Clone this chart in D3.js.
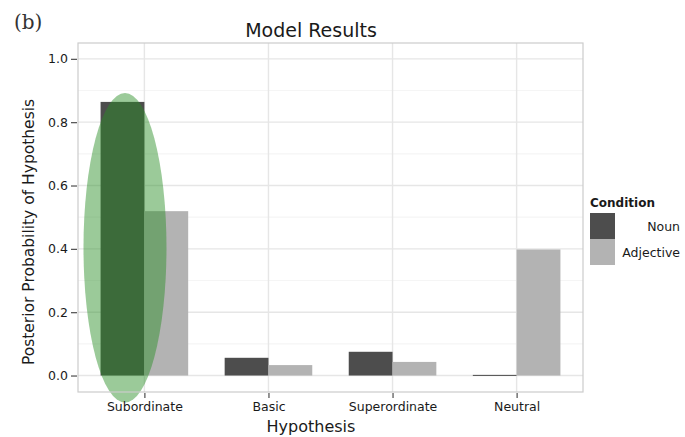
<!DOCTYPE html>
<html>
<head>
<meta charset="utf-8">
<script src="https://cdn.jsdelivr.net/npm/d3@7"></script>
<style>
  html, body { margin: 0; padding: 0; background: #fff; }
  svg { display: block; }
  text { font-family: "DejaVu Sans", sans-serif; fill: #1a1a1a; }
  text.panel-tag { font-family: "DejaVu Serif", "Liberation Serif", serif; fill: #333; }
</style>
</head>
<body>
<svg id="chart" width="685" height="437"></svg>
<script>
// Posterior probability of each hypothesis, by condition
const hypotheses = ["Subordinate", "Basic", "Superordinate", "Neutral"];
const conditions = ["Noun", "Adjective"];
const nounValues = [0.864, 0.056, 0.075, 0.002];
const adjectiveValues = [0.519, 0.033, 0.043, 0.398];
const yTicks = [0.0, 0.2, 0.4, 0.6, 0.8, 1.0];
const yMinor = [0.1, 0.3, 0.5, 0.7, 0.9];
const highlighted = "Subordinate";

const conditionColors = { Noun: "#4d4d4d", Adjective: "#b3b3b3" };

const svg = d3.select("#chart");
const panel = { left: 78, right: 583, top: 43, bottom: 392 };

const x = d3.scalePoint().domain(hypotheses)
  .range([panel.left, panel.right]).padding(0.535);
const step = x.step();
const xInner = d3.scaleBand().domain(conditions)
  .range([-step * 0.353, step * 0.353]);
const y = d3.scaleLinear().domain([-0.052, 1.05]).range([panel.bottom, panel.top]);

const rows = hypotheses.map((h, i) => ({
  hypothesis: h,
  values: [
    { condition: "Noun", value: nounValues[i] },
    { condition: "Adjective", value: adjectiveValues[i] }
  ]
}));

// panel background + grid
svg.append("rect")
  .attr("x", panel.left).attr("y", panel.top)
  .attr("width", panel.right - panel.left).attr("height", panel.bottom - panel.top)
  .attr("fill", "#fff");

const grid = svg.append("g");
grid.selectAll("line.minor").data(yMinor).join("line")
  .attr("x1", panel.left).attr("x2", panel.right)
  .attr("y1", d => y(d)).attr("y2", d => y(d))
  .attr("stroke", "#f5f5f5").attr("stroke-width", 1.2);
grid.selectAll("line.majorY").data(yTicks).join("line")
  .attr("x1", panel.left).attr("x2", panel.right)
  .attr("y1", d => y(d)).attr("y2", d => y(d))
  .attr("stroke", "#e6e6e6").attr("stroke-width", 1.4);
grid.selectAll("line.majorX").data(hypotheses).join("line")
  .attr("x1", d => x(d)).attr("x2", d => x(d))
  .attr("y1", panel.top).attr("y2", panel.bottom)
  .attr("stroke", "#e6e6e6").attr("stroke-width", 1.4);

// bars
const groups = svg.append("g").selectAll("g").data(rows).join("g")
  .attr("transform", d => `translate(${x(d.hypothesis)},0)`);
groups.selectAll("rect").data(d => d.values).join("rect")
  .attr("x", d => xInner(d.condition))
  .attr("width", xInner.bandwidth())
  .attr("y", d => y(d.value))
  .attr("height", d => Math.max(1, y(0) - y(d.value)))
  .attr("fill", d => conditionColors[d.condition]);

// highlight ellipse over the subordinate noun bar
const hx = x(highlighted) + xInner("Noun") + xInner.bandwidth() / 2 + 2.5;
const hiTop = 0.892, hiBottom = -0.085;
svg.append("ellipse")
  .attr("cx", hx)
  .attr("cy", (y(hiTop) + y(hiBottom)) / 2)
  .attr("rx", 41.5)
  .attr("ry", (y(hiBottom) - y(hiTop)) / 2)
  .attr("fill", "rgb(42,143,38)")
  .attr("fill-opacity", 0.47);

// panel border
svg.append("rect")
  .attr("x", panel.left).attr("y", panel.top)
  .attr("width", panel.right - panel.left).attr("height", panel.bottom - panel.top)
  .attr("fill", "none").attr("stroke", "#cccccc").attr("stroke-width", 1.2);

// axes
const yAxis = svg.append("g")
  .attr("transform", `translate(${panel.left - 1},0)`)
  .call(d3.axisLeft(y).tickValues(yTicks).tickFormat(d3.format(".1f")).tickSize(6).tickPadding(3));
yAxis.select(".domain").remove();
yAxis.selectAll(".tick line").attr("stroke", "#4d4d4d").attr("stroke-width", 1.2);
yAxis.selectAll(".tick text").attr("font-size", 12.5).attr("fill", "#333");

const xAxis = svg.append("g")
  .attr("transform", `translate(0,${panel.bottom + 1})`)
  .call(d3.axisBottom(x).tickSize(5).tickPadding(4));
xAxis.select(".domain").remove();
xAxis.selectAll(".tick line").attr("stroke", "#4d4d4d").attr("stroke-width", 1.2);
xAxis.selectAll(".tick text").attr("font-size", 12.5).attr("fill", "#333");

// titles
svg.append("text").attr("x", 311).attr("y", 37).attr("text-anchor", "middle")
  .attr("font-size", 19).text("Model Results");
svg.append("text").attr("x", 311).attr("y", 432).attr("text-anchor", "middle")
  .attr("font-size", 16).text("Hypothesis");
svg.append("text")
  .attr("transform", "translate(34,232) rotate(-90)")
  .attr("text-anchor", "middle").attr("font-size", 15.5)
  .text("Posterior Probability of Hypothesis");
svg.append("text").attr("class", "panel-tag").attr("x", 14).attr("y", 29)
  .attr("font-size", 20)
  .text("(b)");

// legend
const legend = svg.append("g").attr("transform", "translate(590,207)");
legend.append("text").attr("x", 0).attr("y", 0)
  .attr("font-size", 12).attr("font-weight", "bold").text("Condition");
const item = legend.selectAll("g.item").data(conditions).join("g")
  .attr("transform", (d, i) => `translate(0,${6 + i * 26})`);
item.append("rect").attr("width", 25).attr("height", 26)
  .attr("fill", d => conditionColors[d]);
item.append("text").attr("x", 90).attr("y", 18).attr("text-anchor", "end")
  .attr("font-size", 12.5).attr("fill", "#333").text(d => d);
</script>
</body>
</html>
